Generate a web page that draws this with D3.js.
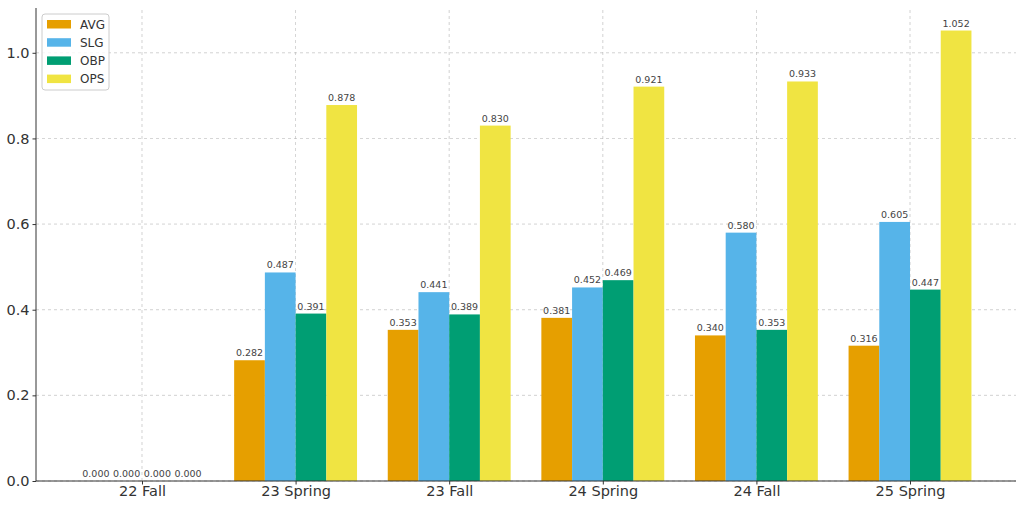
<!DOCTYPE html>
<html>
<head>
<meta charset="utf-8">
<script src="https://cdn.jsdelivr.net/npm/d3@7"></script>
<style>
  body { margin: 0; background: #fff; }
  svg { font-family: "DejaVu Sans", sans-serif; }
</style>
</head>
<body>
<div id="chart"></div>
<script>
const categories = ["22 Fall", "23 Spring", "23 Fall", "24 Spring", "24 Fall", "25 Spring"];
const seriesNames = ["AVG", "SLG", "OBP", "OPS"];
const colors = ["#E69F00", "#56B4E9", "#009E73", "#F0E442"];
const avg = [0.000, 0.282, 0.353, 0.381, 0.340, 0.316];
const slg = [0.000, 0.487, 0.441, 0.452, 0.580, 0.605];
const obp = [0.000, 0.391, 0.389, 0.469, 0.353, 0.447];
const ops = [0.000, 0.878, 0.830, 0.921, 0.933, 1.052];
const yTicks = [0.0, 0.2, 0.4, 0.6, 0.8, 1.0];

const series = [avg, slg, obp, ops];

const width = 1024, height = 508;
const margin = {left: 36, right: 8, top: 8, bottom: 27};

const svg = d3.select("#chart").append("svg")
    .attr("width", width)
    .attr("height", height);

// matplotlib-like x limits: bars span -0.4..5.4, plus 5% margin
const barW = 0.2;
const lo = -0.4, hi = categories.length - 1 + 0.4;
const pad = (hi - lo) * 0.05;
const x = d3.scaleLinear()
    .domain([lo - pad, hi + pad])
    .range([margin.left, width - margin.right]);

const ymax = d3.max(ops) * 1.05;
const y = d3.scaleLinear()
    .domain([0, ymax])
    .range([height - margin.bottom, margin.top]);

// grid
const grid = svg.append("g").attr("class", "grid");
grid.selectAll("line.h").data(yTicks).enter().append("line")
    .attr("x1", x.range()[0]).attr("x2", x.range()[1])
    .attr("y1", d => y(d)).attr("y2", d => y(d))
    .attr("stroke", "#b0b0b0").attr("stroke-width", 0.8)
    .attr("stroke-dasharray", "3,3").attr("opacity", 0.7);
grid.selectAll("line.v").data(categories).enter().append("line")
    .attr("x1", (d, i) => x(i)).attr("x2", (d, i) => x(i))
    .attr("y1", y.range()[0]).attr("y2", y.range()[1])
    .attr("stroke", "#b0b0b0").attr("stroke-width", 0.8)
    .attr("stroke-dasharray", "3,3").attr("opacity", 0.7);

// bars
series.forEach((vals, s) => {
    const off = (s - 1.5) * barW;
    const g = svg.append("g");
    g.selectAll("rect").data(vals).enter().append("rect")
        .attr("x", (d, i) => x(i + off - barW / 2))
        .attr("width", x(barW) - x(0))
        .attr("y", d => y(d))
        .attr("height", d => y(0) - y(d))
        .attr("fill", colors[s]);
    g.selectAll("text").data(vals).enter().append("text")
        .attr("x", (d, i) => x(i + off))
        .attr("y", d => y(d) - 4)
        .attr("text-anchor", "middle")
        .attr("font-size", 9.5)
        .attr("fill", "#444")
        .text(d => d.toFixed(3));
});

// axes
const xAxis = svg.append("g")
    .attr("transform", `translate(0,${y(0)})`)
    .call(d3.axisBottom(x).tickValues(d3.range(categories.length))
        .tickFormat(i => categories[i]).tickSize(3.5).tickPadding(1.5));
xAxis.select(".domain").remove();
xAxis.selectAll("text").attr("font-size", 14.5).attr("fill", "#333")
    .attr("font-family", "DejaVu Sans");
xAxis.selectAll(".tick line").attr("stroke", "#333");

const yAxis = svg.append("g")
    .attr("transform", `translate(${margin.left},0)`)
    .call(d3.axisLeft(y).tickValues(yTicks).tickFormat(d3.format(".1f"))
        .tickSize(3.5).tickPadding(3));
yAxis.select(".domain").remove();
yAxis.selectAll("text").attr("font-size", 14.5).attr("fill", "#333")
    .attr("font-family", "DejaVu Sans");
yAxis.selectAll(".tick line").attr("stroke", "#333");

// spines (left and bottom only)
svg.append("line")
    .attr("x1", margin.left).attr("x2", margin.left)
    .attr("y1", y.range()[1]).attr("y2", y.range()[0])
    .attr("stroke", "#333").attr("stroke-width", 1);
svg.append("line")
    .attr("x1", x.range()[0]).attr("x2", x.range()[1])
    .attr("y1", y(0)).attr("y2", y(0))
    .attr("stroke", "#333").attr("stroke-width", 1);

// legend
const leg = svg.append("g").attr("transform", "translate(42,14)");
leg.append("rect")
    .attr("width", 67).attr("height", 76).attr("rx", 3)
    .attr("fill", "#fff").attr("fill-opacity", 0.8)
    .attr("stroke", "#ccc");
seriesNames.forEach((name, i) => {
    leg.append("rect")
        .attr("x", 5).attr("y", 6 + i * 18.2)
        .attr("width", 24).attr("height", 8.5)
        .attr("fill", colors[i]);
    leg.append("text")
        .attr("x", 38).attr("y", 14.5 + i * 18.2)
        .attr("font-size", 12).attr("fill", "#333")
        .text(name);
});
</script>
</body>
</html>
